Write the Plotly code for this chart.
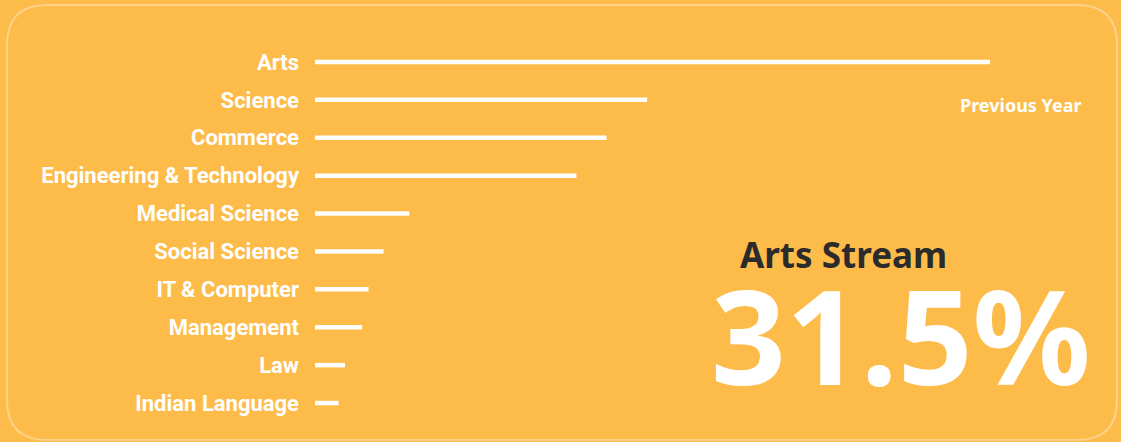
import plotly.graph_objects as go

categories = ["Arts", "Science", "Commerce", "Engineering & Technology", "Medical Science",
              "Social Science", "IT & Computer", "Management", "Law", "Indian Language"]
shares = [31.5, 15.5, 13.6, 12.2, 4.4, 3.2, 2.5, 2.2, 1.4, 1.1]
headline_label = "Arts Stream"
headline_value = "31.5%"
note_label = "Previous Year"

BG = "#FDBB4A"
W, H = 1121, 442
ML, MR, MT, MB = 315, 106, 43, 20
PW, PH = W - ML - MR, H - MT - MB

def px_x(px):
    return (px - ML) / PW

def px_y(py):
    return (H - MB - py) / PH

fig = go.Figure(go.Bar(
    x=shares, y=categories, orientation="h",
    marker=dict(color="white", line=dict(width=0)),
    width=0.12, hoverinfo="x+y",
))

# rounded border path (paper coords)
l, r, t, b, rad = 7, 1117, 5, 440, 40
def P(x, y):
    return f"{px_x(x):.5f},{px_y(y):.5f}"
path = (f"M {P(l+rad, t)} L {P(r-rad, t)} Q {P(r, t)} {P(r, t+rad)} "
        f"L {P(r, b-rad)} Q {P(r, b)} {P(r-rad, b)} L {P(l+rad, b)} "
        f"Q {P(l, b)} {P(l, b-rad)} L {P(l, t+rad)} Q {P(l, t)} {P(l+rad, t)} Z")

fig.update_layout(
    width=W, height=H,
    margin=dict(l=ML, r=MR, t=MT, b=MB),
    paper_bgcolor=BG, plot_bgcolor=BG,
    showlegend=False,
    xaxis=dict(range=[0, PW / (675 / 31.5)], visible=False, showgrid=False, zeroline=False),
    yaxis=dict(categoryorder="array", categoryarray=categories[::-1],
               showgrid=False, zeroline=False, showline=False, ticks="",
               ticklabelstandoff=15, automargin=False,
               tickfont=dict(family="Roboto", size=22, color="white", weight="bold")),
    shapes=[dict(type="path", xref="paper", yref="paper", path=path,
                 line=dict(color="rgba(255,255,255,0.35)", width=2), layer="below")],
    annotations=[
        dict(text=note_label, xref="paper", yref="paper", x=px_x(1084), y=px_y(105),
             xanchor="right", yanchor="middle", showarrow=False,
             font=dict(family="Noto Sans", size=18, color="white", weight="bold")),
        dict(text=headline_label, xref="paper", yref="paper", x=px_x(738), y=px_y(254),
             xanchor="left", yanchor="middle", showarrow=False,
             font=dict(family="Noto Sans", size=35, color="#2b2b2b", weight="bold")),
        dict(text=headline_value, xref="paper", yref="paper", x=px_x(709), y=px_y(334),
             xanchor="left", yanchor="middle", showarrow=False,
             font=dict(family="Noto Sans", size=131, color="white", weight="bold")),
    ],
)

fig.write_html("out.html", config={"displayModeBar": False},
               post_script="document.body.style.margin='0';document.body.style.padding='0';")
